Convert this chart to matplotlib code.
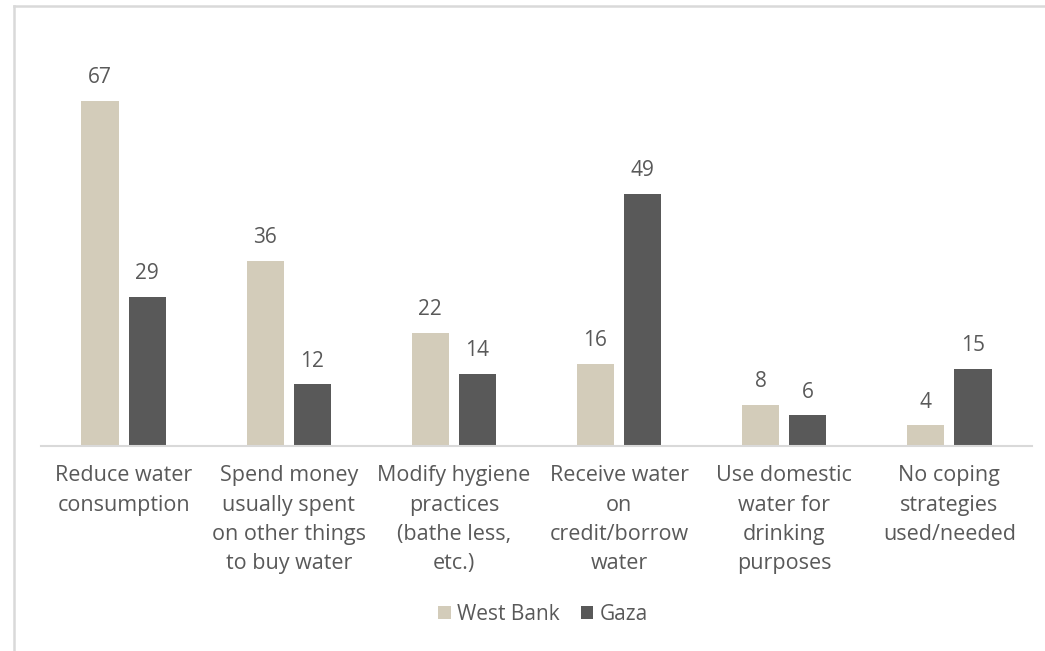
import matplotlib.pyplot as plt
import numpy as np
from matplotlib.lines import Line2D
from matplotlib.patches import Patch

categories = [
    "Reduce water\nconsumption",
    "Spend money\nusually spent\non other things\nto buy water",
    "Modify hygiene\npractices\n(bathe less,\netc.)",
    "Receive water\non\ncredit/borrow\nwater",
    "Use domestic\nwater for\ndrinking\npurposes",
    "No coping\nstrategies\nused/needed",
]
west_bank = [67, 36, 22, 16, 8, 4]
gaza = [29, 12, 14, 49, 6, 15]

TAN = "#D3CCBA"
DARK = "#595959"
TEXT = "#595959"
GRID = "#D9D9D9"

plt.rcParams["font.family"] = ["Open Sans", "DejaVu Sans"]

W, H = 1045, 651
fig = plt.figure(figsize=(W / 100, H / 100), dpi=100)

# plot area in pixels: baseline at y=446, 41..1032 wide
ax = fig.add_axes([41 / W, (H - 446) / H, (1032 - 41) / W, 360.5 / H])

x = np.arange(len(categories))
width = 0.225
offset = 0.143

bars_wb = ax.bar(x - offset, west_bank, width, color=TAN, label="West Bank")
bars_gz = ax.bar(x + offset, gaza, width, color=DARK, label="Gaza")

for bars in (bars_wb, bars_gz):
    ax.bar_label(bars, padding=9, fontsize=15, color=TEXT)

ax.set_xlim(-0.5, len(categories) - 0.5)
ax.set_ylim(0, 70)
ax.set_yticks([])
ax.set_xticks(x)
ax.set_xticklabels(categories, fontsize=15.5, color=TEXT, linespacing=1.52)
ax.tick_params(axis="x", length=0, pad=14)

for side in ("top", "right", "left"):
    ax.spines[side].set_visible(False)
ax.spines["bottom"].set_color(GRID)
ax.spines["bottom"].set_linewidth(1.5)

# chart frame (left and top edges)
fig.add_artist(Line2D([14 / W, 14 / W], [0, 1 - 6 / H], transform=fig.transFigure,
                      color=GRID, linewidth=1.8))
fig.add_artist(Line2D([14 / W, 1], [1 - 6 / H, 1 - 6 / H], transform=fig.transFigure,
                      color=GRID, linewidth=1.8))

handles = [Patch(facecolor=TAN, label="West Bank"), Patch(facecolor=DARK, label="Gaza")]
fig.legend(handles=handles, loc="center", bbox_to_anchor=(543 / W, 1 - 614 / H), ncol=2,
           frameon=False, fontsize=15, labelcolor=TEXT, handlelength=0.6, handleheight=0.6,
           handletextpad=0.3, columnspacing=1.0)

fig.savefig("out.png", dpi=100)
